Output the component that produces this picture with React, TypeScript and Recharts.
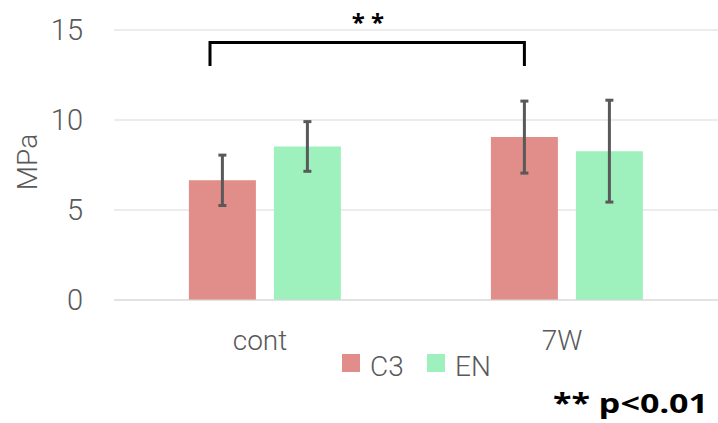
import React from 'react';
import { BarChart, Bar, XAxis, YAxis, CartesianGrid, ErrorBar, Label } from 'recharts';

const categories = ['cont', '7W'];
const c3Values = [6.65, 9.05];
const c3Errors = [1.4, 2.0];
const enValues = [8.53, 8.27];
const enErrors = [1.38, 2.83];
const yTicks = [0, 5, 10, 15];
const seriesNames = ['C3', 'EN'];
const seriesColors = ['#E18D89', '#9EF1BC'];
const sigLabel = '* *';
const pLabel = '** p<0.01';

const data = categories.map((c, i) => ({
  name: c,
  C3: c3Values[i],
  C3err: c3Errors[i],
  EN: enValues[i],
  ENerr: enErrors[i],
}));

const W = 718;
const H = 423;
const TOP = 30;
const PLOT_BOTTOM = 300;
const LEFT = 114;
const YMAX = 15;
const FONT = 'Roboto, sans-serif';
const GRAY = '#595959';

const yPx = (v: number) => PLOT_BOTTOM - (v / YMAX) * (PLOT_BOTTOM - TOP);

export default function App() {
  const bandW = (W - LEFT) / categories.length;
  const bx1 = 210;
  const bx2 = LEFT + bandW + bandW * 0.248 + 33.5;
  const byTop = yPx(14.3);
  const byBot = yPx(13.0);
  return (
    <div style={{ position: 'absolute', left: 0, top: 0, width: W, height: H, background: '#fff' }}>
      <BarChart
        width={W}
        height={H}
        data={data}
        margin={{ top: TOP, right: 0, left: 0, bottom: 0 }}
        barCategoryGap="24.8%"
        barGap={18}
      >
        <CartesianGrid vertical={false} stroke="#D9D9D9" strokeWidth={1} />
        <XAxis
          dataKey="name"
          height={H - PLOT_BOTTOM}
          axisLine={{ stroke: '#D9D9D9' }}
          tickLine={false}
          tickSize={0}
          tickMargin={30}
          tick={{ fill: GRAY, fontSize: 28, fontFamily: FONT, fontWeight: 300, dx: -5 }}
        />
        <YAxis
          width={LEFT}
          domain={[0, YMAX]}
          ticks={yTicks}
          axisLine={false}
          tickLine={false}
          tickSize={0}
          tickMargin={31}
          tick={{ fill: GRAY, fontSize: 29, fontFamily: FONT, fontWeight: 300 }}
        >
          <Label
            content={(props: any) => {
              const vb = props.viewBox || { x: 0, y: TOP, height: PLOT_BOTTOM - TOP };
              const cx = 37;
              const cy = vb.y + vb.height / 2 - 3;
              return (
                <text
                  x={cx}
                  y={cy}
                  transform={`rotate(-90 ${cx} ${cy})`}
                  textAnchor="middle"
                  fill={GRAY}
                  fontSize={28}
                  fontFamily={FONT}
                  fontWeight={300}
                >
                  MPa
                </text>
              );
            }}
          />
        </YAxis>
        <Bar dataKey="C3" fill={seriesColors[0]} isAnimationActive={false}>
          <ErrorBar dataKey="C3err" stroke={GRAY} strokeWidth={3} width={4} isAnimationActive={false} />
        </Bar>
        <Bar dataKey="EN" fill={seriesColors[1]} isAnimationActive={false}>
          <ErrorBar dataKey="ENerr" stroke={GRAY} strokeWidth={3} width={4} isAnimationActive={false} />
        </Bar>
      </BarChart>
      <svg
        width={W}
        height={H}
        style={{ position: 'absolute', left: 0, top: 0, pointerEvents: 'none' }}
      >
        <path
          d={`M${bx1},${byBot} L${bx1},${byTop} L${bx2},${byTop} L${bx2},${byBot}`}
          fill="none"
          stroke="#000"
          strokeWidth={3}
        />
        <text
          x={368}
          y={31}
          textAnchor="middle"
          fontSize={24}
          fontWeight={700}
          fontFamily="'Noto Sans', sans-serif"
          fill="#000"
        >
          {sigLabel}
        </text>
        {seriesNames.map((n, i) => {
          const x0 = 342 + i * 85;
          return (
            <g key={n}>
              <rect x={x0} y={354} width={18} height={18} fill={seriesColors[i]} />
              <text
                x={x0 + 28}
                y={376}
                fontSize={28}
                fill={GRAY}
                fontFamily={FONT}
                fontWeight={300}
              >
                {n}
              </text>
            </g>
          );
        })}
        <text
          x={553}
          y={413}
          fontSize={27}
          fontWeight={700}
          fontFamily="'Noto Sans', sans-serif"
          fill="#000"
          textLength={155}
          lengthAdjust="spacingAndGlyphs"
        >
          {pLabel}
        </text>
      </svg>
    </div>
  );
}
